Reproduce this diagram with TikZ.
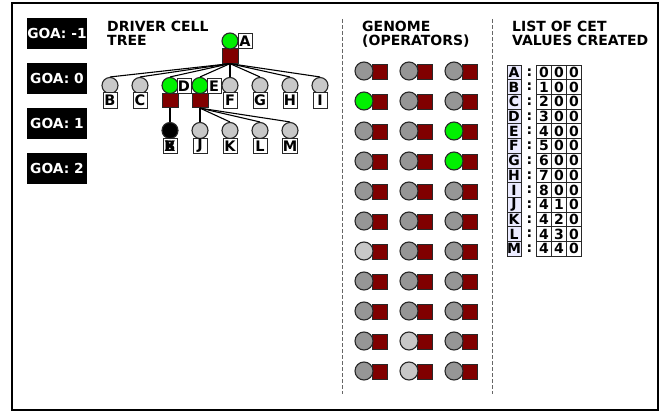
\documentclass[tikz,border=0pt]{standalone}
\usepackage{fontspec}
\setmainfont{DejaVu Sans}
\definecolor{cmaroon}{RGB}{128,0,0}
\definecolor{clgray}{RGB}{200,200,200}
\definecolor{cmgray}{RGB}{150,150,150}
\definecolor{cgreen}{RGB}{0,240,0}
\definecolor{cedge}{RGB}{40,40,40}
\tikzset{
  treecirc/.style={circle, draw=cedge, line width=1.1pt, minimum size=16pt, inner sep=0pt, fill=clgray},
  gencirc/.style={circle, draw=cedge, line width=1.1pt, minimum size=18pt, inner sep=0pt, fill=cmgray},
  treesq/.style={rectangle, draw=cedge, fill=cmaroon, line width=0.8pt, minimum width=16pt, minimum height=14.5pt, inner sep=0pt},
  gensq/.style={rectangle, draw=cedge, fill=cmaroon, line width=0.8pt, minimum width=15pt, minimum height=15pt, inner sep=0pt},
  lbl/.style={rectangle, draw=cedge, fill=white, line width=0.9pt, inner sep=0pt, minimum width=14pt, minimum height=15.5pt, font=\bfseries\fontsize{14.5}{14.5}\selectfont},
  goabox/.style={rectangle, fill=black, text=white, inner sep=0pt, minimum width=60pt, minimum height=31pt, font=\bfseries\fontsize{13.8}{13.8}\selectfont},
  title/.style={anchor=north west, inner sep=0pt, align=left, font=\bfseries\fontsize{14}{14}\selectfont},
  cell/.style={rectangle, draw=cedge, fill=white, line width=0.7pt, inner sep=0pt, minimum width=15pt, minimum height=14.7pt, font=\bfseries\fontsize{14}{14}\selectfont},
  lcell/.style={cell, minimum width=14pt, fill=white!92!blue},
  edge/.style={draw=black, line width=1.1pt},
  sep/.style={draw=black!60, dash pattern=on 4pt off 2pt, line width=0.9pt}
}
\begin{document}
\begin{tikzpicture}[x=1pt, y=-1pt]
\useasboundingbox (0,0) rectangle (663,414);
\draw[line width=2.2pt] (12,3) rectangle (658,410);

% GOA boxes
\node[goabox] (goam1) at (57,33.5) {GOA: -1};
\node[goabox] (goa0) at (57,78.5) {GOA: 0};
\node[goabox] (goa1) at (57,123.5) {GOA: 1};
\node[goabox] (goa2) at (57,168.5) {GOA: 2};

% titles
\node[title] (t1) at (107,21) {DRIVER CELL\\TREE};
\node[title] (t2) at (362,21) {GENOME\\(OPERATORS)};
\node[title] (t3) at (512,21) {LIST OF CET\\VALUES CREATED};

% separators
\coordinate (s1a) at (342,19); \coordinate (s1b) at (342,394);
\coordinate (s2a) at (492,19); \coordinate (s2b) at (492,394);
\draw[sep] (s1a) -- (s1b);
\draw[sep] (s2a) -- (s2b);

% tree root
\node[treesq] (Asq) at (230,56) {};
\node[treecirc, fill=cgreen] (A) at (230,41) {};
\node[lbl] (Al) at (245,41) {A};

% level 1
\foreach \n/\x in {B/110,C/140,F/230,G/260,H/290,I/320}{
  \node[treecirc] (\n) at (\x,85.5) {};
  \node[lbl] (\n l) at (\x,100.5) {\n};
}
\foreach \n/\x in {D/170,E/200}{
  \node[treesq] (\n sq) at (\x,100.5) {};
  \node[treecirc, fill=cgreen] (\n) at (\x,85.5) {};
  \node[lbl] (\n l) at (\x+14,86) {\n};
}
\foreach \n in {B,C,D,E,F,G,H,I}{
  \draw[edge] (Asq.south) -- (\n.north);
}

% level 2
\node[lbl] (Xl) at (170,146) {\makebox[0pt]{B}\makebox[0pt]{X}};
\node[treecirc, fill=black] (X) at (170,130.5) {};
\foreach \n/\x in {J/200,K/230,L/260,M/290}{
  \node[treecirc] (\n) at (\x,130.5) {};
  \node[lbl] (\n l) at (\x,146) {\n};
}
\draw[edge] (Dsq.south) -- (X.north);
\foreach \n in {J,K,L,M}{
  \draw[edge] (Esq.south) -- (\n.north);
}

% genome grid
\foreach \r in {1,...,11}{
  \foreach \c/\cx in {1/364,2/409,3/454}{
    \pgfmathsetmacro{\cy}{71+30*(\r-1)}
    \node[gensq] (s-\r-\c) at (\cx+15.5,\cy+0.5) {};
    \def\col{cmgray}
    \ifnum\r=7 \ifnum\c=1 \def\col{clgray}\fi\fi
    \ifnum\r=10 \ifnum\c=2 \def\col{clgray}\fi\fi
    \ifnum\r=11 \ifnum\c=2 \def\col{clgray}\fi\fi
    \ifnum\r=2 \ifnum\c=1 \def\col{cgreen}\fi\fi
    \ifnum\r=3 \ifnum\c=3 \def\col{cgreen}\fi\fi
    \ifnum\r=4 \ifnum\c=3 \def\col{cgreen}\fi\fi
    \node[gencirc, fill=\col] (g-\r-\c) at (\cx,\cy) {};
  }
}

% CET table
\foreach \L/\a/\b/\cc [count=\i from 0] in {A/0/0/0,B/1/0/0,C/2/0/0,D/3/0/0,E/4/0/0,F/5/0/0,G/6/0/0,H/7/0/0,I/8/0/0,J/4/1/0,K/4/2/0,L/4/3/0,M/4/4/0}{
  \pgfmathsetmacro{\ty}{72.35+14.7*\i}
  \node[lcell] (L\L) at (514,\ty) {\L};
  \node[inner sep=0pt, font=\bfseries\fontsize{14}{14}\selectfont] (c\L) at (529.5,\ty) {:};
  \node[cell] (d1\L) at (544,\ty) {\a};
  \node[cell] (d2\L) at (559,\ty) {\b};
  \node[cell] (d3\L) at (574,\ty) {\cc};
}
\end{tikzpicture}
\end{document}
